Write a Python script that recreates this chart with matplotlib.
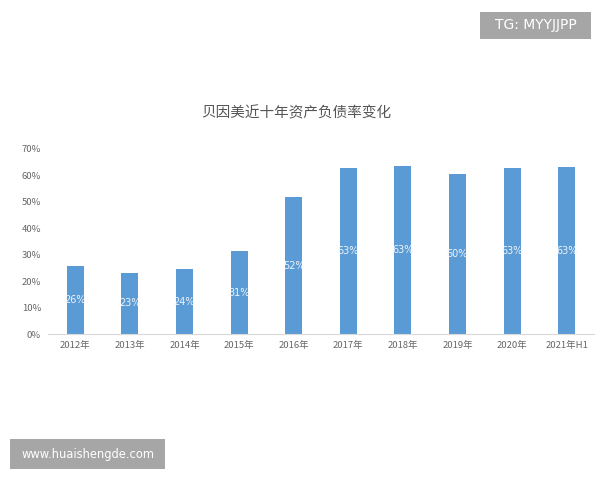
import matplotlib.pyplot as plt
from matplotlib.patches import Rectangle

plt.rcParams['font.family'] = ['Noto Sans CJK SC', 'DejaVu Sans']

years = ['2012年', '2013年', '2014年', '2015年', '2016年',
         '2017年', '2018年', '2019年', '2020年', '2021年H1']
ratio = [25.8, 23.2, 24.5, 31.2, 51.8, 62.9, 63.5, 60.6, 62.7, 63.1]
labels = ['26%', '23%', '24%', '31%', '52%', '63%', '63%', '60%', '63%', '63%']
yticks = [0, 10, 20, 30, 40, 50, 60, 70]

fig = plt.figure(figsize=(6, 4.8), dpi=100)
ax = fig.add_axes([0.08, 0.304, 0.91, 0.386])

x = range(len(years))
bars = ax.bar(x, ratio, width=0.31, color='#5B9BD5')
for b, lab in zip(bars, labels):
    ax.text(b.get_x() + b.get_width() / 2, b.get_height() / 2, lab,
            ha='center', va='center', color='#EEF4FA', fontsize=7,
            family='DejaVu Sans')

ax.set_xlim(-0.5, len(years) - 0.5)
ax.set_ylim(0, 70)
ax.set_xticks(list(x))
ax.set_xticklabels(years, fontsize=6.8, color='#666666')
ax.set_yticks(yticks)
ax.set_yticklabels([f'{v}%' for v in yticks], fontsize=6.8, color='#666666')
ax.tick_params(length=0, pad=5)
for s in ['top', 'right', 'left']:
    ax.spines[s].set_visible(False)
ax.spines['bottom'].set_color('#D9D9D9')

fig.text(0.493, 0.765, '贝因美近十年资产负债率变化', ha='center', va='center',
         fontsize=10.5, color='#555555', family='Noto Sans CJK SC')

# watermarks
fig.patches.append(Rectangle((0.8, 0.918), 0.185, 0.058, transform=fig.transFigure,
                             facecolor='#A6A6A6', edgecolor='none'))
fig.text(0.8925, 0.947, 'TG: MYYJJPP', ha='center', va='center',
         color='white', fontsize=10, family='DejaVu Sans')
fig.patches.append(Rectangle((0.017, 0.022), 0.258, 0.063, transform=fig.transFigure,
                             facecolor='#A6A6A6', edgecolor='none'))
fig.text(0.146, 0.0535, 'www.huaishengde.com', ha='center', va='center',
         color='white', fontsize=8.3, family='DejaVu Sans')

fig.savefig('out.png', dpi=100)
